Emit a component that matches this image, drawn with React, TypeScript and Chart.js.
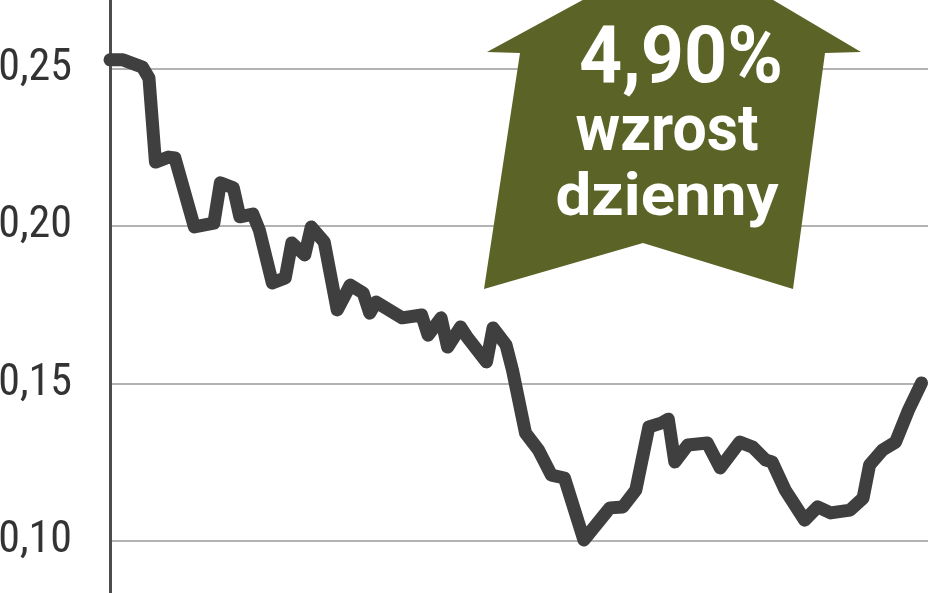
import React, { useEffect, useRef } from "react";
import { Chart, registerables } from "chart.js";

Chart.register(...registerables);

// trading-day index of each vertex of the price line
const days = [
  0, 2, 5, 6, 7, 9, 10, 13, 16, 17, 19, 20, 22, 23, 25, 27, 28, 30, 31, 33,
  35, 37, 39, 40, 41, 45, 48, 49, 51, 52, 54, 55, 58, 59, 61, 62, 64, 66, 68, 70,
  73, 77, 79, 81, 83, 85, 86, 87, 89, 92, 94, 97, 99, 101, 102, 104, 107, 109, 111, 114,
  116, 117, 119, 121, 123, 125,
];
// price (PLN)
const prices = [
  0.2529, 0.2529, 0.2506, 0.2471, 0.2204, 0.222, 0.2217, 0.1998, 0.201, 0.2138,
  0.2122, 0.203, 0.2039, 0.1988, 0.182, 0.1836, 0.1947, 0.1909, 0.1998, 0.195,
  0.1734, 0.1813, 0.1788, 0.1724, 0.1759, 0.1709, 0.1718, 0.1654, 0.1709, 0.1616,
  0.168, 0.1648, 0.1569, 0.1677, 0.1623, 0.1543, 0.1343, 0.1289, 0.1209, 0.12,
  0.1003, 0.1105, 0.1108, 0.1162, 0.1362, 0.1375, 0.1387, 0.1251, 0.1305, 0.1311,
  0.1232, 0.1314, 0.1298, 0.1257, 0.1251, 0.1162, 0.1066, 0.1108, 0.1089, 0.1098,
  0.1136, 0.1241, 0.1289, 0.1314, 0.1416, 0.1502,
];
const yTicks = [0.1, 0.15, 0.2, 0.25];
const badgeLines = ["4,90%", "wzrost", "dzienny"];

const badgePlugin = {
  id: "badge",
  afterDatasetsDraw(chart: any) {
    const ctx = chart.ctx as CanvasRenderingContext2D;
    ctx.save();
    ctx.fillStyle = "#5b6426";
    ctx.beginPath();
    ctx.moveTo(682, -54);
    ctx.lineTo(861, 52);
    ctx.lineTo(825, 53);
    ctx.lineTo(793, 289);
    ctx.lineTo(643, 243);
    ctx.lineTo(484, 289);
    ctx.lineTo(520, 53);
    ctx.lineTo(487, 52);
    ctx.closePath();
    ctx.fill();

    const fit = (text: string, cx: number, base: number, size: number, w: number) => {
      ctx.font = `bold ${size}px Roboto, 'DejaVu Sans', sans-serif`;
      const mw = ctx.measureText(text).width;
      ctx.save();
      ctx.translate(cx, base);
      ctx.scale(w / mw, 1);
      ctx.fillStyle = "#ffffff";
      ctx.textAlign = "center";
      ctx.textBaseline = "alphabetic";
      ctx.fillText(text, 0, 0);
      ctx.restore();
    };
    fit(badgeLines[0], 681, 82, 80, 204);
    fit(badgeLines[1], 667, 150, 64, 183);
    fit(badgeLines[2], 667, 215, 60, 223);
    ctx.restore();
  },
};

export default function App() {
  const ref = useRef<HTMLCanvasElement>(null);
  useEffect(() => {
    document.body.style.margin = "0";
    const chart = new Chart(ref.current!, {
      type: "line",
      data: {
        datasets: [
          {
            data: days.map((d, i) => ({ x: d, y: prices[i] })),
            borderColor: "#3f3f3f",
            borderWidth: 13,
            borderJoinStyle: "round",
            borderCapStyle: "round",
            pointRadius: 0,
            tension: 0,
            clip: false as any,
          },
        ],
      },
      options: {
        responsive: false,
        animation: false,
        devicePixelRatio: 1,
        layout: { padding: { left: 0, top: 0, bottom: 0, right: 20 }, autoPadding: false },
        plugins: { legend: { display: false }, tooltip: { enabled: false } },
        scales: {
          x: { type: "linear", min: 0, max: 126, display: false },
          y: {
            min: 0.08344,
            max: 0.27193,
            afterBuildTicks: (s: any) => {
              s.ticks = yTicks.map((v) => ({ value: v }));
            },
            afterFit: (s: any) => {
              s.width = 110;
              s.paddingTop = 0;
              s.paddingBottom = 0;
            },
            ticks: {
              callback: (v: any) => Number(v).toFixed(2).replace(".", ","),
              font: { family: "'Liberation Sans Narrow', 'Roboto Condensed', Roboto, sans-serif", size: 44 },
              color: "#333333",
              padding: 38,
            },
            grid: { color: "#b3b3b3", lineWidth: 2, drawTicks: false },
            border: { display: true, color: "#4d4d4d", width: 3 },
          },
        },
      },
      plugins: [badgePlugin],
    });
    return () => chart.destroy();
  }, []);
  return <canvas ref={ref} width={948} height={593} style={{ display: "block" }} />;
}
